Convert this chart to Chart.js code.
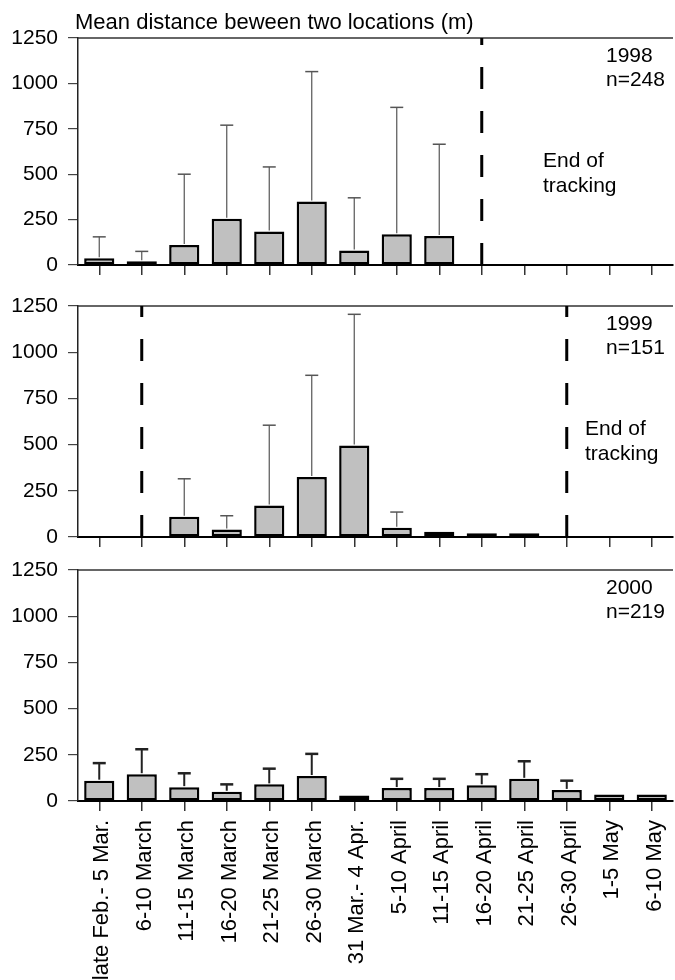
<!DOCTYPE html>
<html>
<head>
<meta charset="utf-8">
<script src="https://cdn.jsdelivr.net/npm/chart.js@4.4.0/dist/chart.umd.min.js"></script>
<style>
  body { margin: 0; background: #fff; width: 675px; height: 980px; position: relative; overflow: hidden; }
  .panel { position: absolute; left: 0; width: 675px; }
</style>
</head>
<body>
<div class="panel" style="top:0;height:280px"><canvas id="c1998"></canvas></div>
<div class="panel" style="top:280px;height:272px"><canvas id="c1999"></canvas></div>
<div class="panel" style="top:552px;height:428px"><canvas id="c2000"></canvas></div>
<script>
const periods = ["late Feb.- 5 Mar.", "6-10 March", "11-15 March", "16-20 March", "21-25 March",
  "26-30 March", "31 Mar.- 4 Apr.", "5-10 April", "11-15 April", "16-20 April", "21-25 April",
  "26-30 April", "1-5 May", "6-10 May"];
const yTicks = [0, 250, 500, 750, 1000, 1250];

// mean distance (m) and upper end of the error bar, per 5-day period
const mean1998 = [37, 20, 110, 255, 185, 350, 80, 170, 160, null, null, null, null, null];
const upper1998 = [155, 75, 500, 770, 540, 1065, 370, 868, 665, null, null, null, null, null];
const mean1999 = [null, null, 110, 40, 170, 325, 495, 50, 28, 20, 20, null, null, null];
const upper1999 = [null, null, 315, 115, 605, 875, 1205, 135, null, null, null, null, null, null];
const mean2000 = [110, 145, 75, 50, 90, 135, 30, 70, 70, 85, 120, 60, 35, 35];
const upper2000 = [205, 280, 150, 90, 175, 255, null, 120, 120, 145, 215, 110, null, null];

// tracking limits (dashed lines)
const limits1998 = ["16-20 April"];
const limits1999 = ["6-10 March", "26-30 April"];
const limits2000 = [];

Chart.defaults.font.family = '"Liberation Sans", Arial, sans-serif';
Chart.defaults.color = "#000";

const panelExtras = {
  id: "panelExtras",
  afterDatasetsDraw(chart, args, opts) {
    const ctx = chart.ctx;
    const xs = chart.scales.x, ys = chart.scales.y;
    const area = chart.chartArea;
    const means = chart.data.datasets[0].data;
    ctx.save();
    // error whiskers
    opts.upper.forEach((u, i) => {
      if (u == null || means[i] == null) return;
      const x = xs.getPixelForValue(i);
      const yb = ys.getPixelForValue(means[i]);
      const yt = ys.getPixelForValue(u);
      ctx.strokeStyle = opts.whiskerColor;
      ctx.lineWidth = opts.whiskerWidth;
      ctx.beginPath();
      ctx.moveTo(x, yb - 1);
      ctx.lineTo(x, yt);
      ctx.stroke();
      ctx.lineWidth = opts.capWidth;
      ctx.beginPath();
      ctx.moveTo(x - 6.5, yt);
      ctx.lineTo(x + 6.5, yt);
      ctx.stroke();
    });
    // top frame line
    ctx.strokeStyle = "#333";
    ctx.lineWidth = 1.5;
    ctx.beginPath();
    ctx.moveTo(area.left, area.top);
    ctx.lineTo(area.right, area.top);
    ctx.stroke();
    // dashed limits
    ctx.strokeStyle = "#000";
    ctx.lineWidth = 3;
    ctx.setLineDash([22, 22]);
    opts.limits.forEach(lbl => {
      const x = xs.getPixelForValue(periods.indexOf(lbl));
      ctx.beginPath();
      ctx.moveTo(x, area.bottom);
      ctx.lineTo(x, area.top);
      ctx.stroke();
    });
    ctx.setLineDash([]);
    // texts
    ctx.fillStyle = "#000";
    ctx.font = '21px "Liberation Sans", Arial, sans-serif';
    ctx.textBaseline = "alphabetic";
    ctx.textAlign = "left";
    const tx = area.right - 67;
    ctx.fillText(opts.year, tx, area.top + 24);
    ctx.fillText(opts.n, tx, area.top + 48);
    if (opts.endX != null) {
      ctx.fillText("End of", area.left + opts.endX, area.top + 129);
      ctx.fillText("tracking", area.left + opts.endX, area.top + 154);
    }
    if (opts.heading) {
      ctx.font = '22px "Liberation Sans", Arial, sans-serif';
      ctx.fillText(opts.heading, area.left - 3, area.top - 9);
    }
    ctx.restore();
  }
};

function makePanel(id, means, upper, limits, o) {
  new Chart(document.getElementById(id), {
    type: "bar",
    data: {
      labels: periods,
      datasets: [{
        data: means,
        backgroundColor: "#c0c0c0",
        borderColor: "#000",
        borderWidth: 2.5,
        borderSkipped: false,
        categoryPercentage: 1,
        barPercentage: 0.71
      }]
    },
    options: {
      responsive: true,
      maintainAspectRatio: false,
      animation: false,
      events: [],
      layout: { padding: { top: o.padTop, right: 2, left: 0, bottom: 0 } },
      plugins: {
        legend: { display: false },
        tooltip: { enabled: false },
        panelExtras: {
          upper: upper, limits: limits, year: o.year, n: o.n, endX: o.endX, heading: o.heading,
          whiskerColor: o.whiskerColor, whiskerWidth: o.whiskerWidth, capWidth: o.capWidth
        }
      },
      scales: {
        x: {
          offset: true,
          grid: { offset: false, drawOnChartArea: false, drawTicks: true, tickLength: 10, color: "#333", lineWidth: 1.5 },
          border: { display: true, color: "#000", width: 2 },
          ticks: { display: o.showLabels, autoSkip: false, minRotation: 90, maxRotation: 90, padding: 9, labelOffset: 3, font: { size: 22 }, color: "#000" },
          afterFit(scale) {
            scale.height = o.xHeight;
            scale.paddingLeft = 0;
            scale.paddingRight = 0;
          }
        },
        y: {
          min: 0,
          max: 1250,
          afterBuildTicks(scale) { scale.ticks = yTicks.map(v => ({ value: v })); },
          ticks: { padding: 10, font: { size: 21 }, color: "#000", callback: v => String(v) },
          grid: { drawOnChartArea: false, tickLength: 10, color: "#444", lineWidth: 1.2 },
          border: { color: "#222", width: 1.5 },
          afterFit(scale) {
            scale.width = 78;
            scale.paddingTop = 0;
            scale.paddingBottom = 0;
          }
        }
      }
    },
    plugins: [panelExtras]
  });
}

makePanel("c1998", mean1998, upper1998, limits1998, {
  padTop: 38, xHeight: 15, showLabels: false, year: "1998", n: "n=248", endX: 465,
  heading: "Mean distance beween two locations (m)",
  whiskerColor: "#555", whiskerWidth: 1.2, capWidth: 1.5
});
makePanel("c1999", mean1999, upper1999, limits1999, {
  padTop: 26, xHeight: 15, showLabels: false, year: "1999", n: "n=151", endX: 507,
  whiskerColor: "#555", whiskerWidth: 1.2, capWidth: 1.5
});
makePanel("c2000", mean2000, upper2000, limits2000, {
  padTop: 18, xHeight: 179, showLabels: true, year: "2000", n: "n=219", endX: null,
  whiskerColor: "#222", whiskerWidth: 2, capWidth: 2.5
});
</script>
</body>
</html>
